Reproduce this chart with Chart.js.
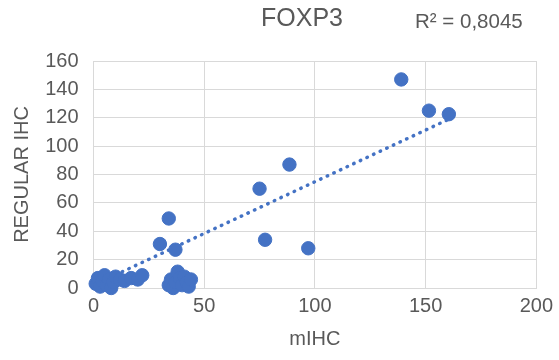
<!DOCTYPE html>
<html>
<head>
<meta charset="utf-8">
<script src="https://cdn.jsdelivr.net/npm/chart.js@4/dist/chart.umd.min.js"></script>
<style>
  html, body { margin: 0; padding: 0; background: #ffffff; }
  #wrap { width: 559px; height: 360px; position: relative; }
</style>
</head>
<body>
<div id="wrap"><canvas id="c"></canvas></div>
<script>
// ---- Data ----
const chartTitle = "FOXP3";
const rSquaredLabel = "R² = 0,8045";
const xAxisTitle = "mIHC";
const yAxisTitle = "REGULAR IHC";

const mihcValues = [
  1, 2, 3, 4, 5, 6, 7, 8, 9, 10, 12, 14, 17, 20, 22,
  34, 35, 36, 37, 38, 39, 40, 41, 42, 43, 44,
  30, 34, 37, 75, 77.5, 88.5, 97, 139, 151.5, 160.5
];
const regularIhcValues = [
  3, 7, 1, 5, 9, 2, 6, 0, 4, 8, 6, 5, 7, 6, 9,
  2, 6, 0, 4, 11.5, 7, 2, 8, 4, 1, 6,
  31, 49, 27, 70, 34, 87, 28, 147, 125, 122.5
];

// Linear trendline end points
const trendX = [1, 160.5];
const trendY = [2.7, 119];

const xTicks = [0, 50, 100, 150, 200];
const yTicks = [0, 20, 40, 60, 80, 100, 120, 140, 160];

// ---- Build chart ----
const blue = "#4472C4";
const grey = "#595959";
const gridCol = "#D9D9D9";
const fontFamily = "'Liberation Sans', Arial, sans-serif";

const points = mihcValues.map((x, i) => ({ x: x, y: regularIhcValues[i] }));
const trendPoints = trendX.map((x, i) => ({ x: x, y: trendY[i] }));

const textPlugin = {
  id: "textPlugin",
  afterDraw(chart) {
    const ctx = chart.ctx;
    ctx.save();
    ctx.fillStyle = grey;
    ctx.textBaseline = "middle";
    ctx.textAlign = "center";
    ctx.font = "25px " + fontFamily;
    ctx.fillText(chartTitle, 302, 19);
    ctx.textAlign = "left";
    ctx.font = "20.5px " + fontFamily;
    ctx.fillText(rSquaredLabel, 415, 22);
    ctx.restore();
  }
};

new Chart(document.getElementById("c"), {
  type: "scatter",
  data: {
    datasets: [
      {
        label: "Trend",
        type: "line",
        data: trendPoints,
        borderColor: blue,
        borderWidth: 3.5,
        borderDash: [0.5, 6.8],
        borderCapStyle: "round",
        pointRadius: 0,
        fill: false,
        clip: false,
        order: 2
      },
      {
        label: chartTitle,
        data: points,
        backgroundColor: blue,
        borderColor: blue,
        borderWidth: 1,
        pointRadius: 6.7,
        pointHoverRadius: 6.7,
        clip: false,
        order: 1
      }
    ]
  },
  options: {
    responsive: true,
    maintainAspectRatio: false,
    animation: false,
    devicePixelRatio: 1,
    layout: { padding: { left: 0, right: 20.3, top: 61, bottom: 0 } },
    plugins: {
      legend: { display: false },
      title: { display: false },
      tooltip: { enabled: false }
    },
    scales: {
      x: {
        type: "linear",
        min: xTicks[0],
        max: xTicks[xTicks.length - 1],
        afterBuildTicks: (s) => { s.ticks = xTicks.map(v => ({ value: v })); },
        afterFit: (s) => { s.height = 72; },
        grid: { color: gridCol, lineWidth: 1, drawTicks: false },
        border: { color: gridCol, width: 1 },
        ticks: { color: grey, font: { family: fontFamily, size: 20 }, padding: 6, maxRotation: 0 },
        title: { display: true, text: xAxisTitle, color: grey, font: { family: fontFamily, size: 20 }, padding: { top: 0, bottom: 9 } }
      },
      y: {
        type: "linear",
        min: yTicks[0],
        max: yTicks[yTicks.length - 1],
        afterBuildTicks: (s) => { s.ticks = yTicks.map(v => ({ value: v })); },
        afterFit: (s) => { s.width = 93.5; },
        grid: { color: gridCol, lineWidth: 1, drawTicks: false },
        border: { color: gridCol, width: 1 },
        ticks: { color: grey, font: { family: fontFamily, size: 20 }, padding: 15 },
        title: { display: true, text: yAxisTitle, color: grey, font: { family: fontFamily, size: 20 }, padding: { top: 10, bottom: 0 } }
      }
    }
  },
  plugins: [textPlugin]
});
</script>
</body>
</html>
